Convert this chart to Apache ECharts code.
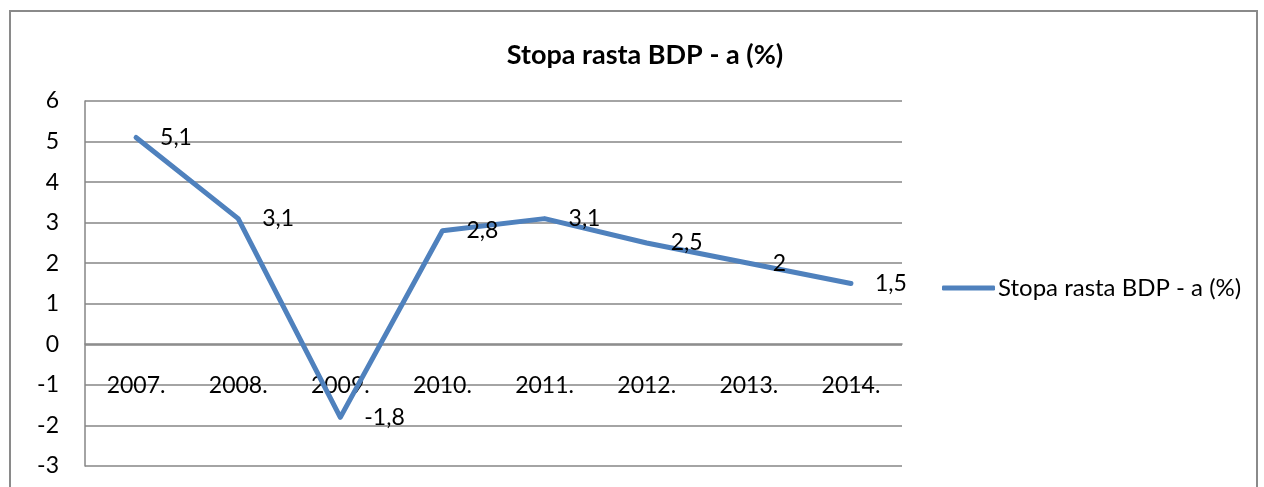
<!DOCTYPE html>
<html><head><meta charset="utf-8">
<script src="https://cdn.jsdelivr.net/npm/echarts@6/dist/echarts.min.js"></script>
<style>
html,body{margin:0;padding:0;background:#fff;}
#frame{position:absolute;left:9px;top:10px;width:1249px;height:500px;border:2px solid #8a8a8a;box-sizing:border-box;}
#c{position:absolute;left:0;top:0;width:1264px;height:487px;}
</style></head>
<body>
<div id="frame"></div>
<div id="c"></div>
<script>
const categories = ['2007.', '2008.', '2009.', '2010.', '2011.', '2012.', '2013.', '2014.'];
const values = [5.1, 3.1, -1.8, 2.8, 3.1, 2.5, 2, 1.5];
const seriesName = 'Stopa rasta BDP - a (%)';
const titleText = 'Stopa rasta BDP - a (%)';

const chart = echarts.init(document.getElementById('c'));
const font = 'Lato, "Open Sans", sans-serif';
chart.setOption({
  animation: false,
  title: {text: titleText, left: 640, textAlign: 'center', top: 37,
    textStyle: {fontFamily: font, fontSize: 27, fontWeight: 'bold', color: '#000'}},
  legend: {left: 937, top: 271, icon: 'roundRect', itemWidth: 53, itemHeight: 5, itemGap: 6,
    textStyle: {fontFamily: font, fontSize: 24, color: '#000', padding: [0,0,0,-2]},
    data: [seriesName]},
  grid: {left: 85, right: 362, top: 101, bottom: 21, containLabel: false, outerBoundsMode: 'none'},
  xAxis: {type: 'category', data: categories, boundaryGap: true, position: 'bottom', offset: -122,
    axisLine: {show: true, onZero: false, lineStyle: {color: '#868686', width: 1.5}},
    axisTick: {show: false},
    axisLabel: {fontFamily: font, fontSize: 23, color: '#000', margin: 30}},
  yAxis: {type: 'value', min: -3, max: 6, interval: 1,
    axisLine: {show: true, lineStyle: {color: '#868686', width: 1.5}},
    axisTick: {show: false},
    splitLine: {lineStyle: {color: '#868686', width: 1.5}},
    axisLabel: {fontFamily: font, fontSize: 23, color: '#000', margin: 26}},
  series: [{name: seriesName, type: 'line', data: values, showSymbol: true, symbol: 'circle', symbolSize: 0,
    lineStyle: {color: '#4F81BD', width: 5, cap: 'round', join: 'round'},
    itemStyle: {color: '#4F81BD'},
    labelLayout: {hideOverlap: false},
    label: {show: true, position: 'right', distance: 24, offset: [0, 2], fontFamily: font, fontSize: 23, color: '#000',
      formatter: p => String(p.value).replace('.', ',')}}]
});
</script>
</body></html>
